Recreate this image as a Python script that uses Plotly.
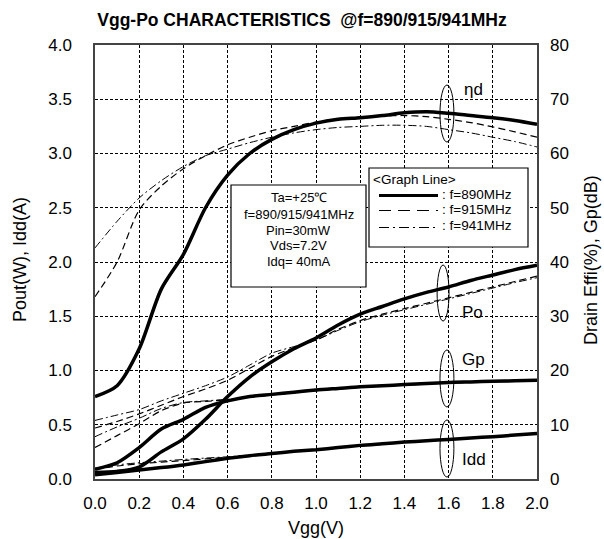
import plotly.graph_objects as go

# ---------------- data ----------------
VGG = [0.0, 0.1, 0.2, 0.3, 0.4, 0.5, 0.6, 0.7, 0.8, 0.9, 1.0,
       1.1, 1.2, 1.3, 1.4, 1.5, 1.6, 1.7, 1.8, 1.9, 2.0]

# Drain efficiency (%) -> right axis
ETA_890 = [15.2, 17.2, 24.0, 35.0, 41.4, 50.0, 56.0, 60.0, 62.6, 64.4, 65.6,
           66.3, 66.6, 67.0, 67.5, 67.7, 67.4, 67.0, 66.6, 66.1, 65.4]
ETA_915 = [33.6, 40.0, 49.6, 54.0, 57.2, 59.6, 61.6, 63.0, 64.2, 65.0, 65.8,
           66.4, 66.7, 66.9, 67.0, 66.8, 66.3, 65.7, 64.9, 64.0, 63.0]
ETA_941 = [42.6, 47.5, 51.8, 55.0, 57.6, 59.6, 60.8, 62.0, 63.0, 63.8, 64.4,
           64.8, 65.0, 65.2, 65.2, 65.0, 64.4, 63.8, 63.0, 62.2, 61.2]

# Output power (W) -> left axis
PO_890 = [0.06, 0.07, 0.11, 0.25, 0.37, 0.55, 0.76, 0.94, 1.08, 1.20, 1.30,
          1.42, 1.52, 1.59, 1.66, 1.72, 1.77, 1.83, 1.88, 1.93, 1.97]
PO_915 = [0.47, 0.53, 0.60, 0.68, 0.76, 0.83, 0.91, 1.02, 1.13, 1.21, 1.28,
          1.38, 1.46, 1.52, 1.57, 1.62, 1.67, 1.72, 1.77, 1.82, 1.87]
PO_941 = [0.54, 0.59, 0.64, 0.72, 0.79, 0.86, 0.94, 1.05, 1.16, 1.22, 1.28,
          1.37, 1.45, 1.51, 1.56, 1.61, 1.66, 1.71, 1.76, 1.81, 1.855]

# Power gain (dB) -> right axis
GP_890 = [1.8, 3.0, 5.8, 9.2, 11.0, 13.2, 14.4, 15.2, 15.6, 16.0, 16.4,
          16.7, 17.0, 17.2, 17.4, 17.6, 17.8, 17.9, 18.0, 18.1, 18.2]
GP_915 = [5.8, 8.0, 10.2, 12.6, 14.0, 14.3, 14.6, 15.1, 15.5, 15.9, 16.3,
          16.6, 16.9, 17.1, 17.3, 17.5, 17.7, 17.8, 17.9, 18.0, 18.1]
GP_941 = [7.8, 9.6, 11.2, 13.0, 14.1, 14.4, 14.7, 15.1, 15.5, 15.9, 16.3,
          16.6, 16.9, 17.1, 17.3, 17.5, 17.7, 17.8, 17.9, 18.0, 18.1]

# Drain current (A) -> left axis
IDD_890 = [0.04, 0.06, 0.083, 0.105, 0.13, 0.16, 0.19, 0.215, 0.235, 0.255, 0.27,
           0.29, 0.31, 0.325, 0.34, 0.353, 0.365, 0.378, 0.39, 0.405, 0.42]
IDD_915 = [0.09, 0.12, 0.14, 0.155, 0.17, 0.185, 0.20, 0.217, 0.236, 0.256, 0.272,
           0.291, 0.311, 0.326, 0.341, 0.354, 0.366, 0.379, 0.391, 0.406, 0.421]
IDD_941 = [0.10, 0.13, 0.15, 0.165, 0.18, 0.193, 0.205, 0.22, 0.237, 0.257, 0.273,
           0.292, 0.312, 0.327, 0.342, 0.355, 0.367, 0.38, 0.392, 0.407, 0.422]

X_TICKS = [0.0, 0.2, 0.4, 0.6, 0.8, 1.0, 1.2, 1.4, 1.6, 1.8, 2.0]
Y_TICKS = [0.0, 0.5, 1.0, 1.5, 2.0, 2.5, 3.0, 3.5, 4.0]
Y2_TICKS = [0, 10, 20, 30, 40, 50, 60, 70, 80]

INFO_LINES = ["Ta=+25℃", "f=890/915/941MHz", "Pin=30mW", "Vds=7.2V", "Idq= 40mA"]
LEGEND_LABELS = [": f=890MHz", ": f=915MHz", ": f=941MHz"]

# ---------------- styles ----------------
FONT = "Liberation Sans, Arial, sans-serif"
STY = {
    "890": dict(color="black", width=3.5, dash="solid"),
    "915": dict(color="black", width=1.2, dash="7px,4px"),
    "941": dict(color="black", width=1.0, dash="8px,3px,2px,3px"),
}

fig = go.Figure()

def add(y, key, axis):
    fig.add_trace(go.Scatter(
        x=VGG, y=y, mode="lines", yaxis=axis, showlegend=False,
        line=dict(shape="spline", smoothing=0.8, **STY[key]),
        hoverinfo="skip"))

# thin lines first, thick on top
for key, series in (("915", (ETA_915, PO_915, GP_915, IDD_915)),
                    ("941", (ETA_941, PO_941, GP_941, IDD_941)),
                    ("890", (ETA_890, PO_890, GP_890, IDD_890))):
    add(series[0], key, "y2")
    add(series[1], key, "y")
    add(series[2], key, "y2")
    add(series[3], key, "y")

# ---------------- geometry helpers ----------------
L, R, T, B = 95, 537, 45, 479
def xp(px):
    return (px - L) / (R - L)
def yp(py):
    return (B - py) / (B - T)

shapes = []
annotations = []

# ellipses (data coords on left axis)
for x0, x1, y0, y1 in ((1.561, 1.624, 3.106, 3.631),
                       (1.548, 1.602, 1.456, 1.972),
                       (1.561, 1.624, 0.664, 1.189),
                       (1.561, 1.624, 0.018, 0.544)):
    shapes.append(dict(type="circle", xref="x", yref="y", x0=x0, x1=x1, y0=y0, y1=y1,
                       line=dict(color="black", width=1)))

for txt, x, y in (("ηd", 1.662, 3.594), ("Po", 1.652, 1.539),
                  ("Gp", 1.652, 1.097), ("Idd", 1.652, 0.180)):
    annotations.append(dict(text=txt, x=x, y=y, xref="x", yref="y", xanchor="left",
                            yanchor="middle", showarrow=False,
                            font=dict(family=FONT, size=17, color="black")))

# info box
shapes.append(dict(type="rect", xref="paper", yref="paper",
                   x0=xp(231), x1=xp(366), y0=yp(287), y1=yp(185),
                   line=dict(color="black", width=1.2), fillcolor="white", layer="above"))
for line_txt, py in zip(INFO_LINES, (197, 214, 230, 245.5, 261)):
    annotations.append(dict(text=line_txt, x=xp(298.5), y=yp(py), xref="paper", yref="paper",
                            xanchor="center", yanchor="middle", showarrow=False,
                            font=dict(family=FONT, size=13, color="black")))

# legend box
shapes.append(dict(type="rect", xref="paper", yref="paper",
                   x0=xp(369), x1=xp(528), y0=yp(247), y1=yp(168),
                   line=dict(color="black", width=1.2), fillcolor="white", layer="above"))
annotations.append(dict(text="&lt;Graph Line&gt;", x=xp(371), y=yp(179.5), xref="paper", yref="paper",
                        xanchor="left", yanchor="middle", showarrow=False,
                        font=dict(family=FONT, size=13.5, color="black")))
for key, lbl, ly, ty in (("890", LEGEND_LABELS[0], 195.5, 194.5),
                         ("915", LEGEND_LABELS[1], 210.5, 210),
                         ("941", LEGEND_LABELS[2], 227.5, 225.5)):
    st = STY[key]
    dash = {"890": "solid", "915": "12px,7px", "941": "10px,4px,2px,4px"}[key]
    shapes.append(dict(type="line", xref="paper", yref="paper",
                       x0=xp(379), x1=xp(438), y0=yp(ly), y1=yp(ly), layer="above",
                       line=dict(color="black", width=st["width"] if key != "890" else 3, dash=dash)))
    annotations.append(dict(text=lbl, x=xp(440), y=yp(ty), xref="paper", yref="paper",
                            xanchor="left", yanchor="middle", showarrow=False,
                            font=dict(family=FONT, size=13.5, color="black")))

# axis titles as annotations (precise placement)
annotations.append(dict(text="Vgg(V)", x=xp(316), y=yp(528), xref="paper", yref="paper",
                        xanchor="center", yanchor="middle", showarrow=False,
                        font=dict(family=FONT, size=18, color="black")))
annotations.append(dict(text="Pout(W), Idd(A)", x=xp(20), y=yp(260), xref="paper", yref="paper",
                        xanchor="center", yanchor="middle", showarrow=False, textangle=-90,
                        font=dict(family=FONT, size=18, color="black")))
annotations.append(dict(text="Drain Effi(%), Gp(dB)", x=xp(591), y=yp(260), xref="paper", yref="paper",
                        xanchor="center", yanchor="middle", showarrow=False, textangle=-90,
                        font=dict(family=FONT, size=18, color="black")))

grid = dict(showgrid=True, gridcolor="black", gridwidth=1, griddash="3px,2px")
fig.update_layout(
    width=604, height=539,
    margin=dict(l=L, r=604 - R, t=T, b=539 - B, autoexpand=False),
    paper_bgcolor="white", plot_bgcolor="white",
    font=dict(family=FONT, size=17, color="black"),
    title=dict(text="<b>Vgg-Po CHARACTERISTICS&nbsp;&nbsp;@f=890/915/941MHz</b>",
               x=302 / 604, xanchor="center", y=1 - 20 / 539, yanchor="middle",
               font=dict(family=FONT, size=17.5, color="black")),
    xaxis=dict(range=[0, 2.0], tickvals=X_TICKS, ticktext=[f"{v:.1f}" for v in X_TICKS],
               showline=True, linecolor="#444", linewidth=1.5, mirror=True,
               ticks="", ticklabelstandoff=8, zeroline=False, **grid),
    yaxis=dict(range=[0, 4.0], tickvals=Y_TICKS, ticktext=[f"{v:.1f}" for v in Y_TICKS],
               showline=True, linecolor="#444", linewidth=1.5, mirror=True,
               ticks="", ticklabelstandoff=18, zeroline=False, **grid),
    yaxis2=dict(range=[0, 80], tickvals=Y2_TICKS, overlaying="y", side="right",
                showgrid=False, zeroline=False, showline=False, ticks="",
                ticklabelstandoff=12),
    shapes=shapes, annotations=annotations,
)

fig.write_html(
    "out.html",
    config={"displayModeBar": False},
    post_script="document.body.style.margin='0';document.body.style.overflow='hidden';"
                "document.documentElement.style.overflow='hidden';",
)
